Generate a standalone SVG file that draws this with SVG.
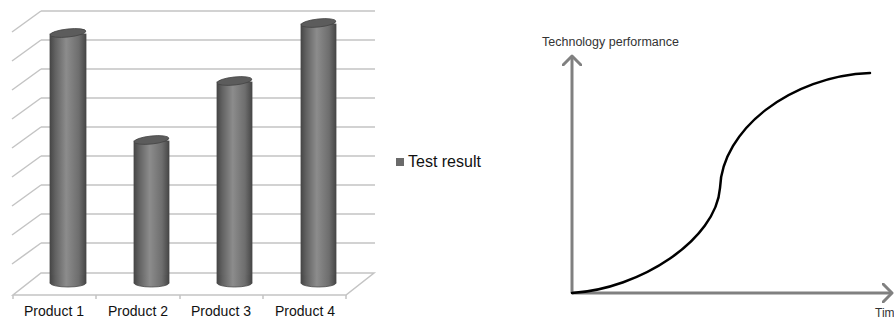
<svg xmlns="http://www.w3.org/2000/svg" width="894" height="320" viewBox="0 0 894 320">
  <defs>
    <linearGradient id="cyl" x1="0" y1="0" x2="1" y2="0">
      <stop offset="0" stop-color="#474747"/>
      <stop offset="0.15" stop-color="#626262"/>
      <stop offset="0.45" stop-color="#8c8c8c"/>
      <stop offset="0.8" stop-color="#6e6e6e"/>
      <stop offset="1" stop-color="#474747"/>
    </linearGradient>
    <marker id="chev" viewBox="0 0 12 20" refX="10" refY="10" markerWidth="12" markerHeight="20" markerUnits="userSpaceOnUse" orient="auto">
      <path d="M1,1 L10,10 L1,19" fill="none" stroke="#808080" stroke-width="3" stroke-linecap="round" stroke-linejoin="round"/>
    </marker>
  </defs>
  <style>
    .grid { stroke: #c4c4c4; stroke-width: 1.5; fill: none; }
    .body { fill: url(#cyl); stroke: #4a4a4a; stroke-width: 0.8; }
    .cap { fill: #5c5c5c; stroke: #444; stroke-width: 0.8; }
    .lbl { font-family: "Liberation Sans", Arial, sans-serif; font-size: 14px; fill: #111; text-anchor: middle; }
    .axis { stroke: #808080; stroke-width: 3; fill: none; }
    .small { font-family: "Liberation Sans", Arial, sans-serif; font-size: 12px; fill: #333; }
  </style>

  <!-- bar chart: back wall gridlines with side-wall diagonals -->
  <g id="chart-grid">
    <path class="grid" d="M41,11 H375 M41,40 H375 M41,69 H375 M41,98 H375 M41,127 H375 M41,156 H375 M41,185 H375 M41,214 H375 M41,243 H375"/>
    <path class="grid" d="M41,11 L12,32 M41,40 L12,61 M41,69 L12,90 M41,98 L12,119 M41,127 L12,148 M41,156 L12,177 M41,185 L12,206 M41,214 L12,235 M41,243 L12,264"/>
    <!-- floor -->
    <path class="grid" d="M41,273 H374 L346,295 H13 Z"/>
    <path class="grid" d="M13,295 V299 M96,295 V299 M180,295 V299 M263,295 V299 M346,295 V299"/>
  </g>

  <g id="bar-product-1">
    <rect class="body" x="50" y="34" width="36" height="249"/>
    <ellipse class="body" cx="68" cy="283" rx="18" ry="4"/>
    <rect x="50.4" y="275" width="35.2" height="8" fill="url(#cyl)"/>
    <ellipse class="cap" cx="68" cy="33" rx="18" ry="4" transform="rotate(-6 68 33)"/>
  </g>
  <g id="bar-product-2">
    <rect class="body" x="134" y="141" width="35" height="142"/>
    <ellipse class="body" cx="151.5" cy="283" rx="17.5" ry="4"/>
    <rect x="134.4" y="275" width="34.2" height="8" fill="url(#cyl)"/>
    <ellipse class="cap" cx="151.5" cy="140" rx="17.5" ry="4" transform="rotate(-6 151.5 140)"/>
  </g>
  <g id="bar-product-3">
    <rect class="body" x="217" y="82" width="35" height="201"/>
    <ellipse class="body" cx="234.5" cy="283" rx="17.5" ry="4"/>
    <rect x="217.4" y="275" width="34.2" height="8" fill="url(#cyl)"/>
    <ellipse class="cap" cx="234.5" cy="81" rx="17.5" ry="4" transform="rotate(-6 234.5 81)"/>
  </g>
  <g id="bar-product-4">
    <rect class="body" x="301" y="24" width="35" height="259"/>
    <ellipse class="body" cx="318.5" cy="283" rx="17.5" ry="4"/>
    <rect x="301.4" y="275" width="34.2" height="8" fill="url(#cyl)"/>
    <ellipse class="cap" cx="318.5" cy="23" rx="17.5" ry="4" transform="rotate(-6 318.5 23)"/>
  </g>

  <g id="category-labels">
    <text class="lbl" x="54" y="316">Product 1</text>
    <text class="lbl" x="138" y="316">Product 2</text>
    <text class="lbl" x="221" y="316">Product 3</text>
    <text class="lbl" x="305" y="316">Product 4</text>
  </g>

  <g id="legend">
    <rect x="396" y="158" width="8" height="8" fill="#6a6a6a"/>
    <text x="408" y="167" font-family="Liberation Sans, Arial, sans-serif" font-size="16" fill="#111">Test result</text>
  </g>

  <!-- S-curve chart -->
  <g id="axes">
    <path class="axis" d="M572,293 V56" marker-end="url(#chev)"/>
    <path class="axis" d="M572,293 H892" marker-end="url(#chev)"/>
  </g>
  <g id="axis-labels">
    <text class="small" x="542" y="46" textLength="137" lengthAdjust="spacingAndGlyphs">Technology performance</text>
    <text class="small" x="875" y="317">Tim</text>
  </g>
  <g id="s-curve">
    <path d="M572,293 C640,289 716,240 720,188 C722,130 790,76 870,73" fill="none" stroke="#000" stroke-width="2.5" stroke-linecap="round"/>
  </g>
</svg>
